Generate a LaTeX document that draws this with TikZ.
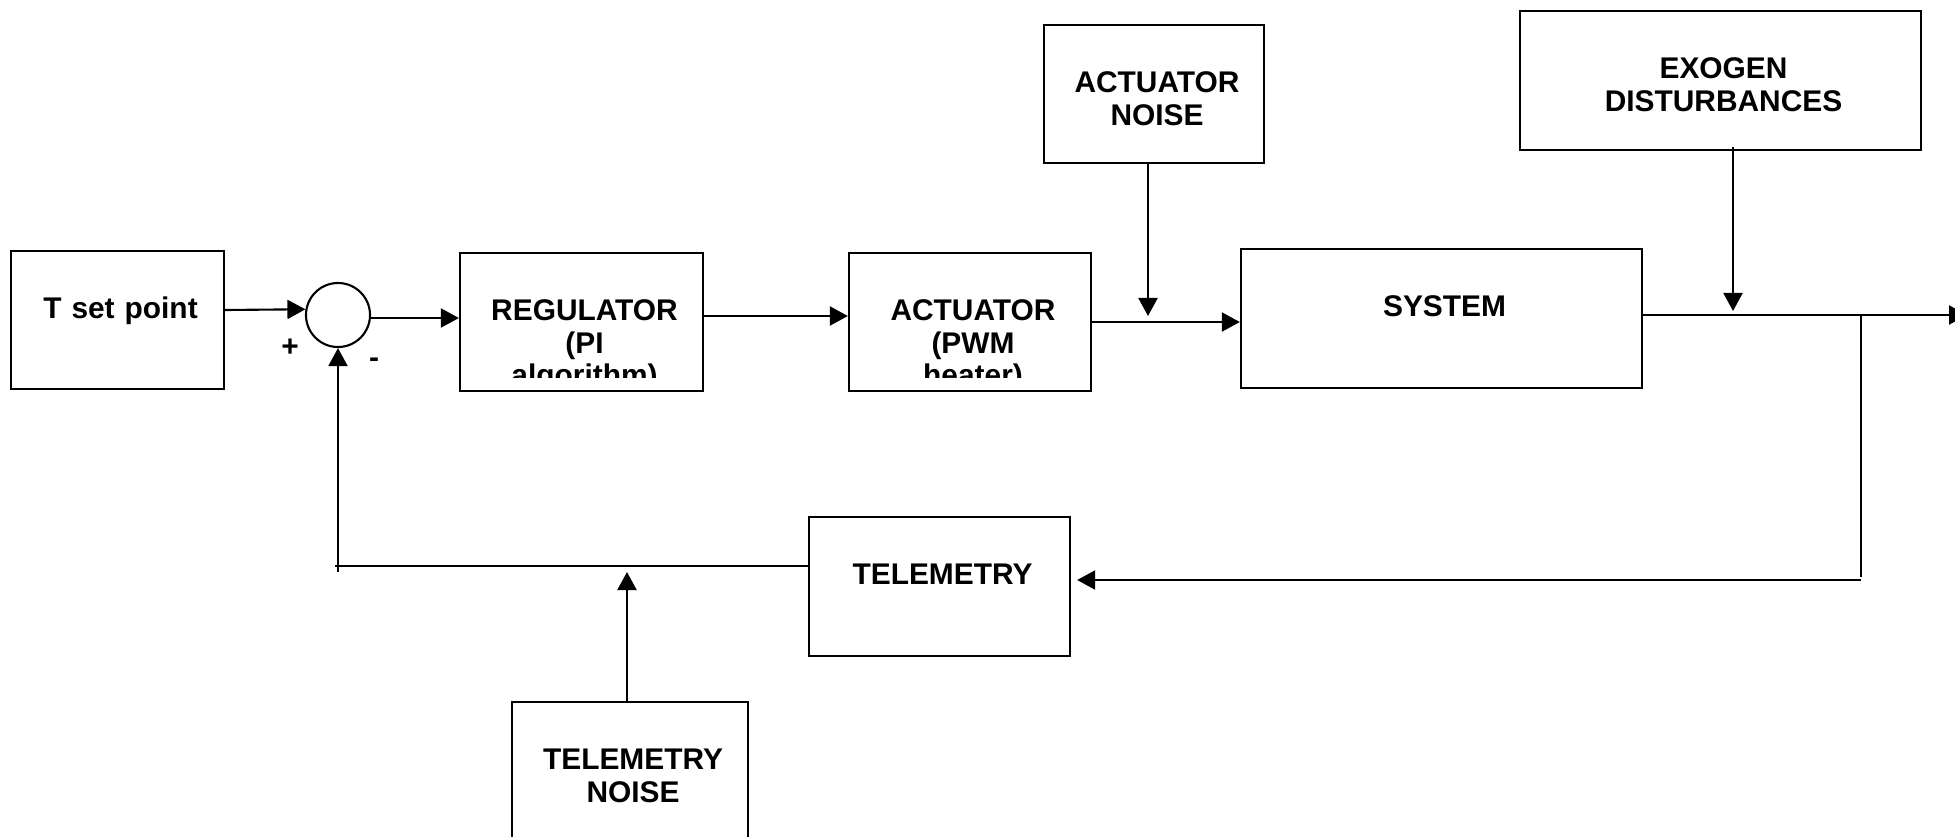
\documentclass[tikz,border=0pt]{standalone}
\usepackage{fontspec}
\setmainfont{Liberation Sans}
\usetikzlibrary{positioning}
\usetikzlibrary{arrows.meta}
\tikzset{
  blk/.style={draw, line width=0.6pt, inner sep=0pt},
  lbl/.style={font=\bfseries\fontsize{8.5}{9.2}\selectfont, align=center, text width=3cm, inner sep=0pt, text height=0.21cm, xshift=0.03cm},
  sgn/.style={font=\bfseries\fontsize{8.5}{9.2}\selectfont, inner sep=0pt},
  arr/.style={-{Triangle[length=1.8mm,width=1.9mm]}, line width=0.6pt},
  ln/.style={line width=0.6pt}
}

\begin{document}
\begin{tikzpicture}[x=0.01cm, y=-0.01cm]
    \useasboundingbox (0,0) rectangle (1955,836);
    \clip (0,0) rectangle (1955,836);
    % blocks
    \node[blk, minimum width=2.13cm, minimum height=1.38cm] (tsp) at (117.5,320) {};
    \node[blk, minimum width=2.43cm, minimum height=1.38cm] (reg) at (581.5,322) {};
    \node[blk, minimum width=2.42cm, minimum height=1.38cm] (act) at (970,322) {};
    \node[blk, minimum width=4.01cm, minimum height=1.39cm] (sys) at (1441.5,318.5) {};
    \node[blk, minimum width=2.20cm, minimum height=1.38cm] (an) at (1154,94) {};
    \node[blk, minimum width=4.01cm, minimum height=1.39cm] (ex) at (1720.5,80.5) {};
    \node[blk, minimum width=2.61cm, minimum height=1.39cm] (tel) at (939.5,586.5) {};
    \node[blk, minimum width=2.36cm, minimum height=1.50cm] (tno) at (630,777) {};
    % summing junction
    \node[blk, circle, minimum size=0.64cm] (sum) at (338,315) {};
    \node[sgn] (plus) at (290,348) {+};
    \node[sgn] (minus) at (374,363) {-};
    % texts
    \node[lbl, below=0.47cm of tsp.north] (tspt) {T set point};
    \node[lbl, below=0.47cm of sys.north] (syst) {SYSTEM};
    \node[lbl, below=0.47cm of an.north] (ant) {ACTUATOR\\NOISE};
    \node[lbl, below=0.47cm of ex.north] (ext) {EXOGEN\\DISTURBANCES};
    \node[lbl, below=0.47cm of tel.north] (telt) {TELEMETRY};
    \node[lbl, below=0.47cm of tno.north] (tnot) {TELEMETRY\\NOISE};
    \begin{scope}
        \clip (reg.north west) rectangle (1100,377);
        \node[lbl, below=0.47cm of reg.north] (regt) {REGULATOR\\(PI\\algorithm)};
        \node[lbl, below=0.47cm of act.north] (actt) {ACTUATOR\\(PWM\\heater)};
    \end{scope}
    % forward path
    \draw[arr] ([yshift=0.1cm]tsp.east) -- (sum.170);
    \draw[arr] ([yshift=-0.03cm]sum.east) -- ([yshift=-0.03cm]sum.east -| reg.west);
    \draw[arr] ([yshift=0.06cm]reg.east) -- ([yshift=0.06cm]reg.east -| act.west);
    \draw[arr] (act.east) -- (act.east -| sys.west);
    \coordinate (nj) at (1148,316);
    \draw[arr] (an.south -| nj) -- (nj);
    \coordinate (dj) at (1733,311);
    \draw[arr] ([yshift=0.04cm]ex.south -| dj) -- (dj);
    \coordinate (br) at (1861,315);
    \coordinate (out) at (1967,315);
    \draw[arr] (sys.east |- br) -- (out);
    % feedback path
    \coordinate (fb) at (1861,580);
    \draw[ln] (br) -- ([yshift=0.03cm]fb);
    \draw[arr] (fb) -- ([xshift=0.06cm]tel.east |- fb);
    \coordinate (fl) at (338,566);
    \draw[ln] (tel.west |- fl) -- ([xshift=-0.03cm]fl);
    \draw[arr] ([yshift=-0.06cm]fl) -- (sum.south);
    \coordinate (tj) at (627,572);
    \draw[arr] (tno.north -| tj) -- (tj);
\end{tikzpicture}
\end{document}
